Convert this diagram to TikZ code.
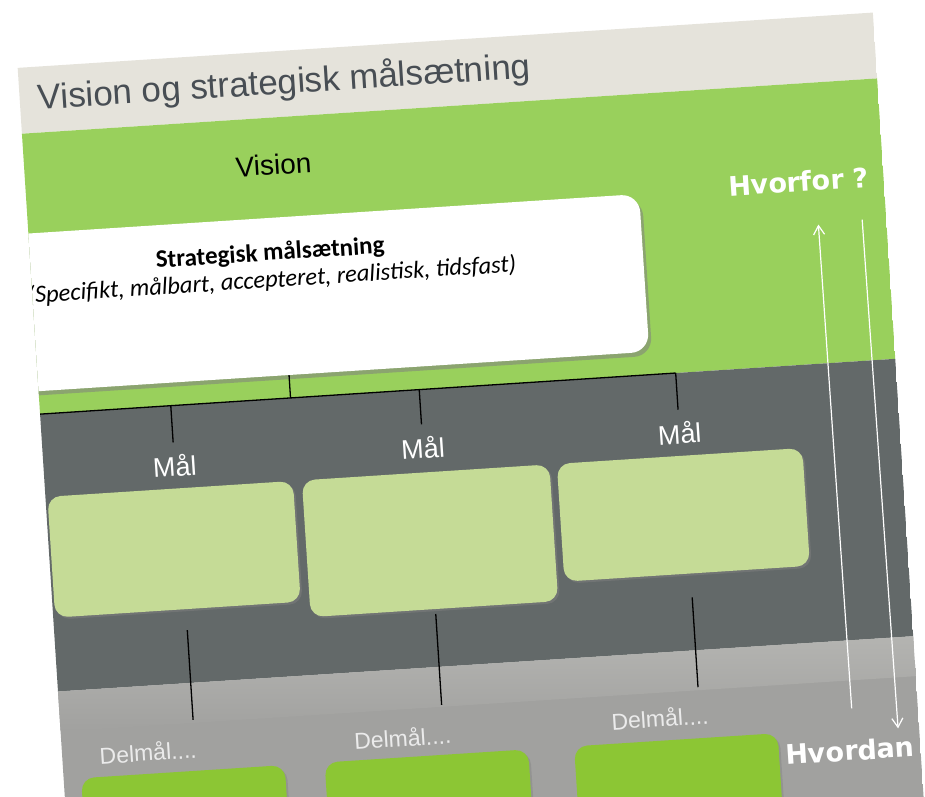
\documentclass[tikz,border=0pt]{standalone}
\usepackage{fontspec}
\setmainfont{Liberation Sans}
\newfontfamily\calibri{Carlito}
\newfontfamily\dejavu{DejaVu Sans}
\usetikzlibrary{shadows,arrows.meta}

\definecolor{slidebeige}{RGB}{229,227,219}
\definecolor{slidegreen}{RGB}{153,208,92}
\definecolor{slidedark}{RGB}{99,105,105}
\definecolor{slidegrey}{RGB}{161,161,159}
\definecolor{malgreen}{RGB}{197,219,150}
\definecolor{delgreen}{RGB}{140,198,52}
\definecolor{titlegrey}{RGB}{72,78,84}

\begin{document}
\begin{tikzpicture}[x=1pt, y=-1pt,
  every node/.style={inner sep=0pt},
  stratbox/.style={shape=rectangle, rounded corners=18pt, fill=white,
    minimum width=740pt, minimum height=158pt,
    drop shadow={shadow xshift=3pt, shadow yshift=-4pt, opacity=0.55}},
  malbox/.style={shape=rectangle, rounded corners=13pt, fill=malgreen,
    minimum width=246pt,
    drop shadow={shadow xshift=2pt, shadow yshift=-2pt, opacity=0.5}},
  delbox/.style={shape=rectangle, rounded corners=13pt, fill=delgreen,
    minimum width=204pt, minimum height=110pt,
    drop shadow={shadow xshift=2pt, shadow yshift=-2pt, opacity=0.4}},
  maltext/.style={text=white, inner ysep=12pt, font=\fontsize{27}{30}\selectfont},
  deltext/.style={text=white!92!black, font=\fontsize{23}{26}\selectfont},
  asktext/.style={text=white, font=\dejavu\bfseries\fontsize{27}{30}\selectfont},
  connector/.style={black, line width=1.3pt},
  arrowline/.style={white, line width=1.2pt, -{Straight Barb[length=9pt,width=11pt]}}]
\useasboundingbox (0,0) rectangle (925,796);
\begin{scope}[rotate around={3.7:(460,400)}, transform shape]
\clip (40,40) rectangle (897,1000);
\fill[slidebeige] (40,40) rectangle (897,106);
\fill[slidegreen] (40,106) rectangle (897,387);
\fill[slidedark] (40,387) rectangle (897,665);
\fill[slidegrey] (40,665) rectangle (897,1000);
\shade[top color={rgb,255:red,180;green,180;blue,177}, bottom color=slidegrey]
  (40,665) rectangle (897,705);

\node[anchor=base west, text=titlegrey, font=\fontsize{35}{42}\selectfont]
  (title) at (58,83) {Vision og strategisk målsætning};
\node[font=\fontsize{28}{32}\selectfont] (vision) at (289,153) {Vision};

\node[stratbox] (strat) at (282,285) {};
\node[align=center, font=\calibri\fontsize{25}{27}\selectfont] (strattext) at (280,255)
  {\textbf{Strategisk målsætning}\\
   {\itshape\fontsize{24.5}{27}\selectfont (Specifikt, målbart, accepteret, realistisk, tidsfast)}};

\coordinate (barl) at (30,387);
\coordinate (bs) at (291,387);
\coordinate (b1) at (171,387);
\coordinate (b2) at (420,387);
\coordinate (b3) at (677,387);
\draw[connector] (barl) -- (b3);
\draw[connector] (bs |- strat.south) -- (bs);

\node[maltext] (m1) at (171,447) {Mål};
\node[maltext] (m2) at (420,445) {Mål};
\node[maltext] (m3) at (677,447) {Mål};
\foreach \i in {1,2,3}
  \draw[connector] (b\i) -- (m\i.north);

\node[malbox, minimum height=121pt] (mal1) at (165,530.5) {};
\node[malbox, minimum height=137pt, minimum width=248pt] (mal2) at (421,538.5) {};
\node[malbox, minimum height=118pt] (mal3) at (675.5,529) {};

\coordinate (d1t) at (173,612);  \coordinate (d1b) at (173,702);
\coordinate (d2t) at (422,612);  \coordinate (d2b) at (422,703);
\coordinate (d3t) at (679,612);  \coordinate (d3b) at (679,702);
\foreach \i in {1,2,3}
  \draw[connector] (d\i t) -- (d\i b);

\node[deltext] (del1) at (126,731) {Delmål....};
\node[deltext] (del2) at (381,733) {Delmål....};
\node[deltext] (del3) at (639,730) {Delmål....};

\node[delbox] (delbox1) at (159.5,808) {};
\node[delbox] (delbox2) at (403.5,808) {};
\node[delbox] (delbox3) at (653.5,808) {};

\node[asktext] (hvorfor) at (812,204) {Hvorfor ?};
\node[asktext, anchor=west] (hvordan) at (762,775) {Hvordan ?};

\coordinate (upfoot) at (831,733);
\coordinate (uptip) at (829,248);
\coordinate (downtop) at (873,246);
\coordinate (downtip) at (876,756);
\draw[arrowline] (upfoot) -- (uptip);
\draw[arrowline] (downtop) -- (downtip);
\end{scope}
\end{tikzpicture}
\end{document}
